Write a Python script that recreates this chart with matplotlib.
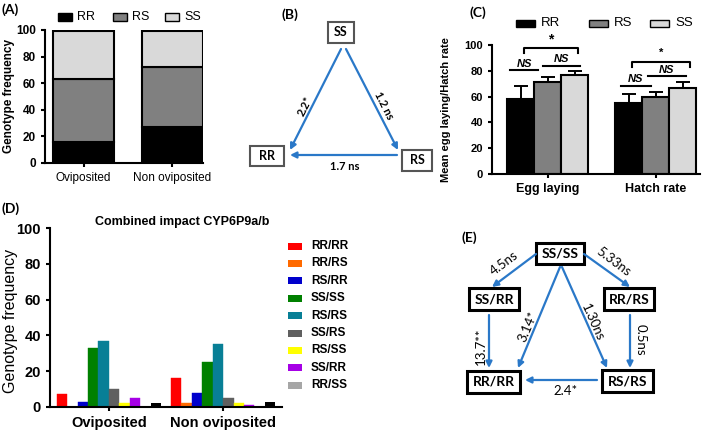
import matplotlib
matplotlib.use("Agg")
import matplotlib.pyplot as plt
import numpy as np
from matplotlib.patches import Rectangle

plt.rcParams['font.family'] = ['Liberation Sans', 'DejaVu Sans']

# ---------------- DATA ----------------
# Panel A
groups_A = ["Oviposited", "Non oviposited"]
A_genotypes = ["RR", "RS", "SS"]
A_RR = [16, 27]
A_RS = [47, 45]
A_SS = [36, 27.5]

# Panel B
B_nodes = ["SS", "RR", "RS"]
B_labels = ["2.2*", "1.2 ns", "1.7 ns"]

# Panel C
groups_C = ["Egg laying", "Hatch rate"]
C_genotypes = ["RR", "RS", "SS"]
C_RR = [58, 55]
C_RS = [71, 60]
C_SS = [76.5, 67]
C_RR_err = [10, 7]
C_RS_err = [4.5, 3.5]
C_SS_err = [3.5, 4]
C_sig_egg = ["NS", "NS", "*"]
C_sig_hatch = ["NS", "NS", "*"]

# Panel D
groups_D = ["Oviposited", "Non oviposited"]
D_genotypes = ["RR/RR", "RR/RS", "RS/RR", "SS/SS", "RS/RS", "SS/RS", "RS/SS", "SS/RR", "RR/SS"]
D_ovip = [7, 0, 3, 33, 37, 10, 2, 5, 0]
D_nonovip = [16, 2, 8, 25, 35, 5, 2, 1, 0]
D_extra = [2, 3]  # unlabelled black bar
D_title = "Combined impact CYP6P9a/b"

# Panel E
E_nodes = ["SS/SS", "SS/RR", "RR/RS", "RR/RR", "RS/RS"]
E_labels = ["4.5ns", "5.33ns", "3.14*", "1.30ns", "13.7**", "0.5ns", "2.4*"]

# ---------------- STYLE ----------------
W, H = 712, 430
fig = plt.figure(figsize=(W / 100, H / 100), dpi=100)

def ax_px(l, t, r, b):
    return fig.add_axes([l / W, 1 - b / H, (r - l) / W, (b - t) / H])

def style_axes(ax, lw=1.5):
    for s in ["top", "right"]:
        ax.spines[s].set_visible(False)
    for s in ["left", "bottom"]:
        ax.spines[s].set_linewidth(lw)
    ax.tick_params(width=lw, length=3, direction="out")

cRR, cRS, cSS = "black", "#808080", "#d9d9d9"
colsABC = [cRR, cRS, cSS]

# ---------------- Panel A ----------------
axA = ax_px(45, 30, 203, 163)
xA = np.arange(len(groups_A))
wA = 0.69
axA.bar(xA, A_RR, wA, color=cRR, edgecolor="black", lw=1.5)
axA.bar(xA, A_RS, wA, bottom=A_RR, color=cRS, edgecolor="black", lw=1.5)
axA.bar(xA, A_SS, wA, bottom=np.array(A_RR) + np.array(A_RS), color=cSS,
        edgecolor="black", lw=1.5)
axA.set_xlim(-0.435, 1.345)
axA.set_ylim(0, 100)
axA.set_yticks([0, 20, 40, 60, 80, 100])
axA.set_xticks(xA)
axA.set_xticklabels(groups_A, fontsize=8.5)
for t in axA.get_yticklabels():
    t.set_fontweight("bold"); t.set_fontsize(8.5)
style_axes(axA)

# ---------------- Panel C ----------------
axC = ax_px(492, 45, 700, 174)
xC = np.array([0, 4])
for off, vals, errs, col in [(-1, C_RR, C_RR_err, cRR),
                             (0, C_RS, C_RS_err, cRS),
                             (1, C_SS, C_SS_err, cSS)]:
    axC.bar(xC + off, vals, 1.0, color=col, edgecolor="black", lw=1.5, zorder=2)
    axC.errorbar(xC + off, vals, yerr=[np.zeros(len(vals)), errs], fmt="none",
                 ecolor="black", elinewidth=1.4, capsize=5, capthick=1.4, zorder=1)
axC.set_xlim(-2.07, 5.63)
axC.set_ylim(0, 100)
axC.set_yticks([0, 20, 40, 60, 80, 100])
axC.set_xticks(xC)
axC.set_xticklabels(groups_C, fontsize=9, fontweight="bold")
for t in axC.get_yticklabels():
    t.set_fontweight("bold"); t.set_fontsize(8)
style_axes(axC)

def sig_line(ax, x0, x1, y, txt, ty):
    ax.plot([x0, x1], [y, y], color="black", lw=1.5, clip_on=False)
    ax.text((x0 + x1) / 2, ty, txt, ha="center", va="bottom", fontsize=8,
            fontstyle="italic", fontweight="bold")

def sig_bracket(ax, x0, x1, y, drop, txt, ty, fs):
    ax.plot([x0, x0, x1, x1], [y - drop, y, y, y - drop], color="black", lw=1.5, clip_on=False)
    ax.text((x0 + x1) / 2, ty, txt, ha="center", va="center", fontsize=fs, fontweight="bold")

sig_line(axC, -1.4, -0.35, 80.5, C_sig_egg[0], 81.5)
sig_line(axC, -0.2, 1.2, 84, C_sig_egg[1], 85)
sig_bracket(axC, -0.87, 1.1, 98, 4, C_sig_egg[2], 104, 10)
sig_line(axC, 2.7, 3.8, 68.5, C_sig_hatch[0], 69.5)
sig_line(axC, 3.7, 5.1, 76, C_sig_hatch[1], 77)
sig_bracket(axC, 3.1, 5.25, 86.5, 3.5, C_sig_hatch[2], 94, 8)

# ---------------- Panel D ----------------
axD = ax_px(50, 228, 282, 407)
colsD = ["#ff0000", "#ff6a00", "#0000cc", "#008000", "#087f96", "#606060",
         "#ffff00", "#a600e6", "#a6a6a6"]
xD = np.array([0, 10.86])
for i, (g, col) in enumerate(zip(D_genotypes, colsD)):
    axD.bar(xD + (i - 4.5), [D_ovip[i], D_nonovip[i]], 1.0, color=col,
            edgecolor=col, lw=0.3)
axD.bar(xD + 4.5, D_extra, 1.0, color="black")
axD.set_xlim(-5.62, 16.48)
axD.set_ylim(0, 100)
axD.set_yticks([0, 20, 40, 60, 80, 100])
axD.set_xticks(xD)
axD.set_xticklabels(groups_D, fontsize=10.5, fontweight="bold")
for t in axD.get_yticklabels():
    t.set_fontweight("bold"); t.set_fontsize(10.5)
style_axes(axD)

# ---------------- Overlay (legends, labels, B, E) ----------------
ov = fig.add_axes([0, 0, 1, 1])
ov.set_xlim(0, W)
ov.set_ylim(H, 0)
ov.axis("off")
ov.patch.set_alpha(0)

# axis labels / titles
ov.text(9, 96, "Genotype frequency", rotation=90, ha="center", va="center",
        fontsize=8.5, fontweight="bold")
ov.text(446, 110, "Mean egg laying/Hatch rate", rotation=90, ha="center", va="center",
        fontsize=8, fontweight="bold")
ov.text(11, 321, "Genotype frequency", rotation=90, ha="center", va="center", fontsize=11.5)
ov.text(182, 222, D_title, ha="center", va="center", fontsize=9, fontweight="bold")

# legend A
for g, col, xs in zip(A_genotypes, colsABC, [58, 113, 165]):
    ov.add_patch(Rectangle((xs, 13), 14, 8, facecolor=col, edgecolor="black", lw=1))
    ov.text(xs + 19, 17, g, ha="left", va="center", fontsize=9)
# legend C
for g, col, xs in zip(C_genotypes, colsABC, [516, 589, 650]):
    ov.add_patch(Rectangle((xs, 20), 19, 7, facecolor=col, edgecolor="black", lw=1))
    ov.text(xs + 25, 23.5, g, ha="left", va="center", fontsize=9.5)
# legend D
for i, (g, col) in enumerate(zip(D_genotypes, colsD)):
    yc = 246 + 17.4 * i
    ov.add_patch(Rectangle((288, yc - 3.5), 14, 7, facecolor=col, edgecolor="none"))
    ov.text(311, yc, g, ha="left", va="center", fontsize=8.5, fontweight="bold")

blue = "#2a78c8"
lab_font = ["Lato", "DejaVu Sans"]

for txt, x, y in [("(A)", 2, 10), ("(B)", 281, 15), ("(C)", 470, 13), ("(D)", 2, 209), ("(E)", 461, 238)]:
    ov.text(x, y, txt, fontsize=10, fontweight="bold", ha="left", va="center", family=lab_font)

def box(x0, y0, x1, y1, txt, lw, ec, fs):
    ov.add_patch(Rectangle((x0, y0), x1 - x0, y1 - y0, facecolor="white", edgecolor=ec, lw=lw))
    ov.text((x0 + x1) / 2, (y0 + y1) / 2, txt, ha="center", va="center", fontsize=fs,
            fontweight="bold", family=lab_font)

def arrow(p0, p1, lw=1.6):
    ov.annotate("", xy=p1, xytext=p0,
                arrowprops=dict(arrowstyle="-|>", color=blue, lw=lw, mutation_scale=9,
                                shrinkA=0, shrinkB=0))

def lab(x, y, txt, rot, fs, bold=False):
    ov.text(x, y, txt, ha="center", va="center", rotation=rot, fontsize=fs,
            fontweight="bold" if bold else "normal", family=lab_font, rotation_mode="anchor")

# Panel B
box(328, 22, 354, 43, B_nodes[0], 1.5, "#555555", 9)
box(250, 146, 284, 166, B_nodes[1], 1.5, "#555555", 9)
box(402, 150, 432, 171, B_nodes[2], 1.5, "#555555", 9)
arrow((341, 49), (290, 150))
arrow((346, 49), (398, 150))
arrow((397, 155), (290, 155))
lab(305, 106, B_labels[0], 63, 8, True)
lab(384, 106, B_labels[1], -63, 8, True)
lab(345, 166, B_labels[2], 0, 8, True)

# Panel E
box(536, 243, 584, 264, E_nodes[0], 2.2, "black", 10)
box(469, 288, 519, 310, E_nodes[1], 2.2, "black", 10)
box(604, 288, 654, 310, E_nodes[2], 2.2, "black", 10)
box(467, 371, 520, 393, E_nodes[3], 2.2, "black", 10)
box(602, 370, 653, 392, E_nodes[4], 2.2, "black", 10)
arrow((536, 254), (492, 287))
arrow((584, 254), (630, 287))
arrow((560, 267), (518, 368))
arrow((562, 267), (607, 368))
arrow((489, 315), (489, 368))
arrow((630, 315), (630, 368))
arrow((597, 380), (525, 380))
lab(504, 263, E_labels[0], 37, 9.5)
lab(613, 262, E_labels[1], -37, 9.5)
lab(528, 327, E_labels[2], 67, 9.5)
lab(593, 322, E_labels[3], -66, 9.5)
lab(481, 346, E_labels[4], 90, 9.5)
lab(641, 340, E_labels[5], -90, 9.5)
lab(566, 391, E_labels[6], 0, 9.5)

fig.savefig("out.png", dpi=100)
